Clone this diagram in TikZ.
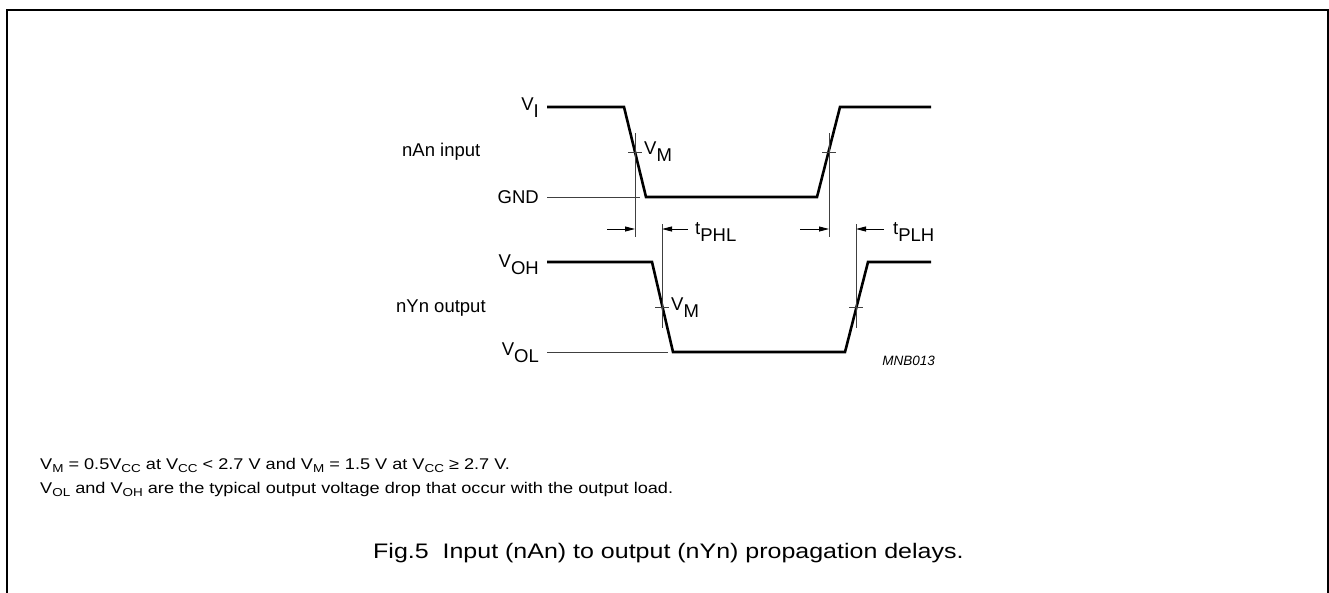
\documentclass[tikz,border=0pt]{standalone}
\usepackage{fontspec}
\setmainfont{Liberation Sans}
\usetikzlibrary{arrows.meta}
\newcommand\lsub[2]{#1\raisebox{-0.4em}{#2}}
\newcommand\nsub[1]{\raisebox{-0.25em}{\fontsize{11.5}{13}\selectfont #1}}
\tikzset{
  wave/.style={line width=2.6pt, line join=miter},
  thin/.style={line width=0.9pt, black!75},
  dimarrow/.style={line width=0.9pt, -{Triangle[length=10pt,width=5pt]}},
  lab/.style={inner sep=0pt, font=\fontsize{18.5}{22}\selectfont},
  note/.style={inner sep=0pt, anchor=base west, font=\fontsize{15.5}{19}\selectfont},
}
\begin{document}
\begin{tikzpicture}[x=1pt,y=-1pt]
\useasboundingbox (0,0) rectangle (1329,592);
% frame
\draw[line width=2pt] (7,600) -- (7,10) -- (1328,10) -- (1328,600);

% input waveform
\coordinate (i0) at (547,107);
\coordinate (i1) at (624,107);
\coordinate (i2) at (646,197);
\coordinate (i3) at (817,197);
\coordinate (i4) at (840,107);
\coordinate (i5) at (931,107);
\draw[wave] (i0) -- (i1) -- (i2) -- (i3) -- (i4) -- (i5);
\coordinate (g0) at (547,197);
\coordinate (g1) at (640,197);
\draw[thin] (g0) -- (g1);

% output waveform
\coordinate (o0) at (547,262);
\coordinate (o1) at (652,262);
\coordinate (o2) at (673,352);
\coordinate (o3) at (845,352);
\coordinate (o4) at (868,262);
\coordinate (o5) at (931,262);
\draw[wave] (o0) -- (o1) -- (o2) -- (o3) -- (o4) -- (o5);
\coordinate (l0) at (547,352);
\coordinate (l1) at (668,352);
\draw[thin] (l0) -- (l1);

% reference lines
\coordinate (va0) at (635,133); \coordinate (va1) at (635,237);
\coordinate (vb0) at (829,133); \coordinate (vb1) at (829,237);
\coordinate (vc0) at (662,224); \coordinate (vc1) at (662,328);
\coordinate (vd0) at (856,224); \coordinate (vd1) at (856,328);
\draw[thin] (va0) -- (va1);
\draw[thin] (vb0) -- (vb1);
\draw[thin] (vc0) -- (vc1);
\draw[thin] (vd0) -- (vd1);
% ticks
\draw[thin] (628,152) -- (642,152);
\draw[thin] (822,152) -- (836,152);
\draw[thin] (655,307) -- (669,307);
\draw[thin] (849,307) -- (863,307);

% arrows
\coordinate (a1) at (607,229); \coordinate (a1e) at (635,229);
\coordinate (a2) at (688,229); \coordinate (a2e) at (662,229);
\coordinate (a3) at (800,229); \coordinate (a3e) at (829,229);
\coordinate (a4) at (884,229); \coordinate (a4e) at (856,229);
\draw[dimarrow] (a1) -- (a1e);
\draw[dimarrow] (a2) -- (a2e);
\draw[dimarrow] (a3) -- (a3e);
\draw[dimarrow] (a4) -- (a4e);

% labels
\node[lab, anchor=base east] (vi) at (539,110) {\lsub{V}{I}};
\node[lab, anchor=east] (gnd) at (539,197) {GND};
\node[lab, anchor=west] (nan) at (402,152) {nAn input};
\node[lab, anchor=base east] (voh) at (539,267) {\lsub{V}{OH}};
\node[lab, anchor=base east] (vol) at (539,355) {\lsub{V}{OL}};
\node[lab, anchor=west] (nyn) at (396,308) {nYn output};
\node[lab, anchor=base west] (vm1) at (644,154) {\lsub{V}{M}};
\node[lab, anchor=base west] (vm2) at (671,310) {\lsub{V}{M}};
\node[lab, anchor=base west] (tphl) at (695,234) {\lsub{t}{PHL}};
\node[lab, anchor=base west] (tplh) at (893,234) {\lsub{t}{PLH}};
\node[inner sep=0pt, anchor=east, font=\fontsize{13.5}{15}\selectfont\itshape] (mnb) at (935,361) {MNB013};

% notes
\node[note] (n1) at (40,469) {\scalebox{1.17}[1]{V\nsub{M} = 0.5V\nsub{CC} at V\nsub{CC} < 2.7 V and V\nsub{M} = 1.5 V at V\nsub{CC} ≥ 2.7 V.}};
\node[note] (n2) at (40,493) {\scalebox{1.17}[1]{V\nsub{OL} and V\nsub{OH} are the typical output voltage drop that occur with the output load.}};

% caption
\node[inner sep=0pt, anchor=base west, font=\fontsize{21}{25}\selectfont] (cap) at (373,558) {\scalebox{1.19}[1]{Fig.5\ \ Input (nAn) to output (nYn) propagation delays.}};
\end{tikzpicture}
\end{document}
